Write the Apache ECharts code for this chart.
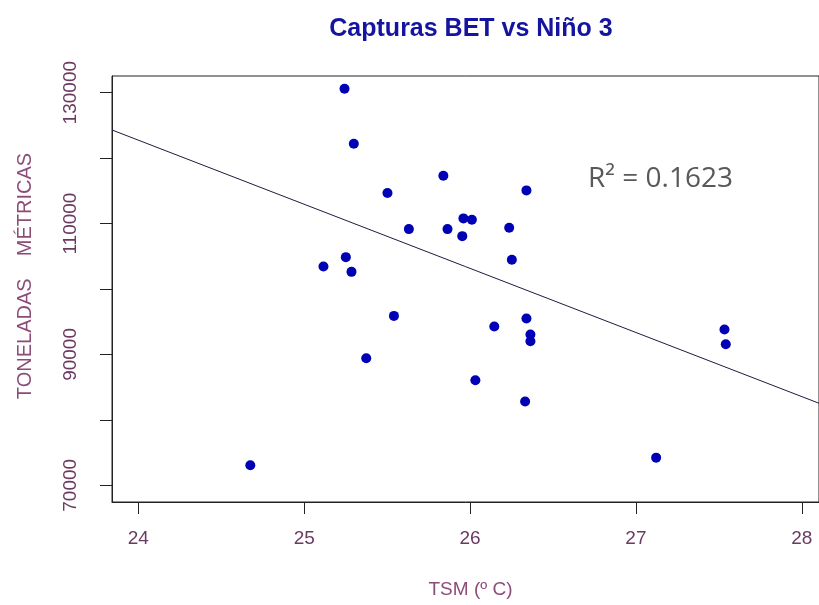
<!DOCTYPE html>
<html>
<head>
<meta charset="utf-8">
<style>
  html, body { margin: 0; padding: 0; background: #fff; }
  #chart { width: 819px; height: 605px; }
</style>
<script src="https://cdn.jsdelivr.net/npm/echarts@6/dist/echarts.min.js"></script>
</head>
<body>
<div id="chart"></div>
<script>
// TSM (°C) and catches (t)
const tsm = [25.243, 25.299, 25.839, 25.502, 25.631, 25.864, 25.251, 25.116, 25.285,
  26.340, 25.960, 26.011, 25.953, 26.236, 26.252, 25.541, 26.146, 26.340, 26.364,
  26.364, 26.032, 26.332, 27.122, 27.534, 27.542, 25.374, 24.675, 25.573];
const capturas = [130610, 122200, 117310, 114660, 109150, 109150, 104870, 103450, 102620,
  115070, 110790, 110580, 108080, 109350, 104460, 95890, 94270, 95490, 93040,
  92020, 86060, 82800, 74230, 93810, 91560, 89420, 73070, 133170];

// fitted line, read at the two plot edges
const fitX = [23.841, 28.104];
const fitY = [124300, 82540];

const xTicks = [24, 25, 26, 27, 28];
const yTicks = [70000, 80000, 90000, 100000, 110000, 120000, 130000];
const yLabels = [70000, 90000, 110000, 130000];

const puntos = tsm.map((x, i) => [x, capturas[i]]);
const recta = fitX.map((x, i) => [x, fitY[i]]);

const labelColor = '#6a3a60';
const nameColor = '#8c4c78';
const font = 'Liberation Sans, Arial, sans-serif';

const chart = echarts.init(document.getElementById('chart'));
chart.setOption({
  animation: false,
  backgroundColor: '#fff',
  grid: {
    left: 112, top: 76, right: 0, bottom: 103,
    show: true, borderColor: '#222', borderWidth: 1
  },
  graphic: [{
    type: 'text', x: 471, y: 29,
    style: {
      text: 'Capturas BET vs Niño 3', fill: '#1414a0',
      font: 'bold 25px ' + font, align: 'center', verticalAlign: 'middle'
    }
  }, {
    type: 'text', x: 588, y: 179,
    style: {
      text: 'R² = 0.1623', fill: '#595959',
      font: '28px Open Sans, sans-serif', align: 'left', verticalAlign: 'middle'
    }
  }],
  xAxis: {
    type: 'value', min: 23.841, max: 28.104,
    name: 'TSM (º C)', nameLocation: 'middle', nameGap: 78,
    nameTextStyle: { color: nameColor, fontSize: 19, fontFamily: font, padding: [0, 0, 0, 10] },
    splitLine: { show: false },
    axisLine: { show: true, onZero: false, lineStyle: { color: '#222', width: 1 } },
    axisTick: { show: true, length: 12, customValues: xTicks, lineStyle: { color: '#222' } },
    axisLabel: { customValues: xTicks, color: labelColor, fontSize: 19, fontFamily: font, margin: 27 }
  },
  yAxis: {
    type: 'value', min: 67450, max: 132550,
    name: 'TONELADAS    MÉTRICAS', nameLocation: 'middle', nameGap: 77,
    nameTextStyle: { color: nameColor, fontSize: 20, fontFamily: font, padding: [0, 0, 0, 26] },
    splitLine: { show: false },
    axisLine: { show: true, onZero: false, lineStyle: { color: '#222', width: 1 } },
    axisTick: { show: true, length: 12, customValues: yTicks, lineStyle: { color: '#222' } },
    axisLabel: {
      customValues: yLabels, rotate: 90, color: labelColor, fontSize: 19, fontFamily: font, margin: 32,
      formatter: v => String(v)
    }
  },
  series: [{
    name: 'ajuste',
    type: 'line',
    data: recta,
    symbol: 'none',
    lineStyle: { color: '#1c1c40', width: 1 },
    silent: true
  }, {
    name: 'capturas',
    type: 'scatter',
    data: puntos,
    symbolSize: 10,
    clip: true,
    itemStyle: { color: '#0000b4', opacity: 1 }
  }]
});
</script>
</body>
</html>
